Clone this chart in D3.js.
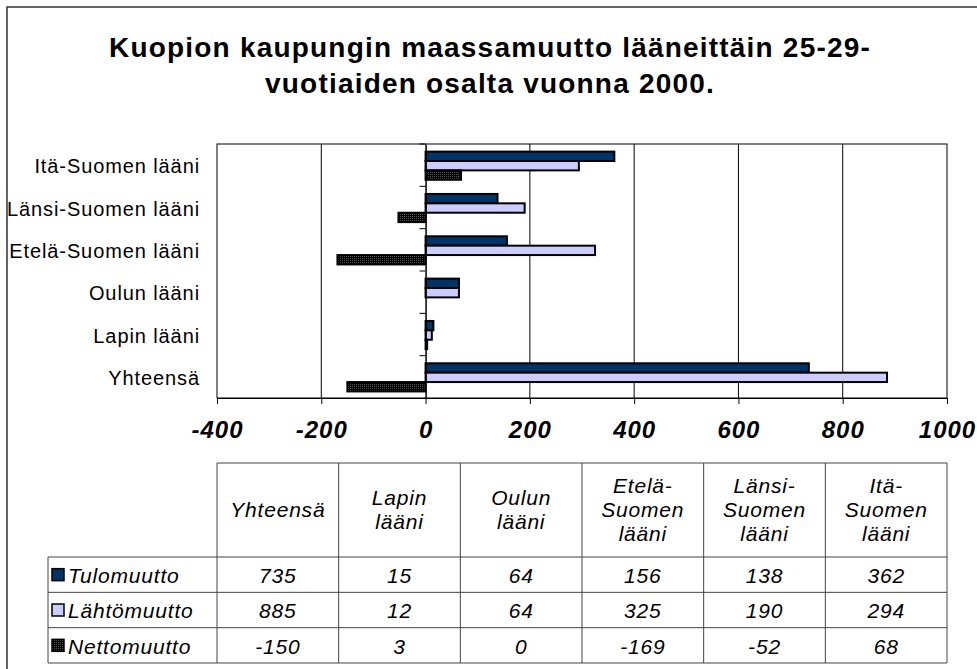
<!DOCTYPE html>
<html><head><meta charset="utf-8">
<script src="https://cdn.jsdelivr.net/npm/d3@7"></script>
<style>
html,body{margin:0;padding:0;background:#fff;}
svg{display:block;font-family:"Liberation Sans",Arial,sans-serif;}
</style></head>
<body>
<svg id="c" width="977" height="669"></svg>
<script>
// ---- data ----
const categories = ["Yhteensä","Lapin lääni","Oulun lääni","Etelä-Suomen lääni","Länsi-Suomen lääni","Itä-Suomen lääni"];
const tableHeaders = [["Yhteensä"],["Lapin","lääni"],["Oulun","lääni"],["Etelä-","Suomen","lääni"],["Länsi-","Suomen","lääni"],["Itä-","Suomen","lääni"]];
const seriesNames = ["Tulomuutto","Lähtömuutto","Nettomuutto"];
const tulomuutto = [735,15,64,156,138,362];
const lahtomuutto = [885,12,64,325,190,294];
const nettomuutto = [-150,3,0,-169,-52,68];
const xTicks = [-400,-200,0,200,400,600,800,1000];
const titleLines = ["Kuopion kaupungin maassamuutto lääneittäin 25-29-","vuotiaiden osalta vuonna 2000."];

const seriesValues = [tulomuutto, lahtomuutto, nettomuutto];
const colors = ["#003366","#CCCCFF","url(#dots)"];

const svg = d3.select("#c");
const defs = svg.append("defs");
const pat = defs.append("pattern").attr("id","dots").attr("patternUnits","userSpaceOnUse")
  .attr("width",2).attr("height",2);
pat.append("rect").attr("width",2).attr("height",2).attr("fill","#000");
pat.append("rect").attr("width",1).attr("height",1).attr("fill","#555");

// outer chart border (continues outside window)
svg.append("path").attr("d","M7,700 L7,7 L1000,7").attr("fill","none").attr("stroke","#333").attr("stroke-width",1.5);

// title
svg.append("g").selectAll("text").data(titleLines).join("text")
  .attr("x",490).attr("y",(d,i)=>57+i*36)
  .attr("text-anchor","middle").attr("font-weight","bold").attr("font-size",28)
  .attr("letter-spacing",1.2)
  .attr("fill","#000").text(d=>d);

// scales
const L=217, R=947, T=144, B=398;
const x = d3.scaleLinear().domain([-400,1000]).range([L,R]);
const chartOrder = categories.slice().reverse();
const y = d3.scaleBand().domain(chartOrder).range([T,B]);
const bw = y.bandwidth();
const ys = d3.scaleBand().domain(seriesNames).range([bw*0.18, bw*0.845]);

// plot border
svg.append("rect").attr("x",L).attr("y",T).attr("width",R-L).attr("height",B-T)
  .attr("fill","none").attr("stroke","#000").attr("stroke-width",1);

// gridlines
svg.append("g").selectAll("line").data(xTicks.filter(v=>v!==-400&&v!==1000&&v!==0)).join("line")
  .attr("x1",d=>x(d)).attr("x2",d=>x(d)).attr("y1",T).attr("y2",B)
  .attr("stroke","#000").attr("stroke-width",1);

// x axis
const xAxis = d3.axisBottom(x).tickValues(xTicks).tickSize(6).tickFormat(d3.format("d"));
const gx = svg.append("g").attr("transform",`translate(0,${B})`).call(xAxis);
gx.select(".domain").attr("stroke","#000");
gx.selectAll(".tick line").attr("stroke","#000");
gx.selectAll(".tick text").attr("font-size",24).attr("font-weight","bold").attr("font-style","italic")
  .attr("letter-spacing",1)
  .attr("font-family","'Liberation Sans',Arial,sans-serif").attr("fill","#000").attr("dy","1.3em")
  .text(d=>d<0?"-"+Math.abs(d):d);

// bars
const gBars = svg.append("g");
seriesNames.forEach((s,si)=>{
  gBars.append("g").selectAll("rect").data(categories.map((c,i)=>({c,v:seriesValues[si][i]}))).join("rect")
    .attr("x",d=>x(Math.min(0,d.v))).attr("width",d=>Math.abs(x(d.v)-x(0)))
    .attr("y",d=>y(d.c)+ys(s)).attr("height",ys.bandwidth())
    .attr("fill",colors[si]).attr("stroke","#000").attr("stroke-width",2)
    .attr("visibility",d=>d.v===0?"hidden":"visible");
});

// category axis at zero
const yAxis = d3.axisLeft(y).tickSize(0).tickFormat("");
const gy = svg.append("g").attr("transform",`translate(${x(0)},0)`).call(yAxis);
gy.select(".domain").attr("stroke","#000").attr("stroke-width",1.5);
// category boundary ticks
svg.append("g").selectAll("line").data(chartOrder).join("line")
  .attr("x1",x(0)-6).attr("x2",x(0)).attr("y1",d=>y(d)).attr("y2",d=>y(d))
  .attr("stroke","#000").attr("stroke-width",1);
// category labels
svg.append("g").selectAll("text").data(chartOrder).join("text")
  .attr("x",200).attr("y",d=>y(d)+bw/2+1).attr("dy","0.35em").attr("text-anchor","end")
  .attr("font-size",20).attr("letter-spacing",0.9).attr("fill","#000").text(d=>d);

// data table
const tx = d3.scaleBand().domain(categories).range([L,R]);
const legL = 48;
const rowTop = 463, hdrBottom = 557;
const ry = d3.scaleBand().domain(seriesNames).range([hdrBottom,663]);
const gt = svg.append("g").attr("font-style","italic").attr("font-size",21).attr("letter-spacing",0.8).attr("fill","#000");
const lineC = "#444";
// header grid
gt.append("line").attr("x1",L).attr("x2",R).attr("y1",rowTop).attr("y2",rowTop).attr("stroke",lineC);
categories.forEach((c,i)=>{
  gt.append("line").attr("x1",tx(c)).attr("x2",tx(c)).attr("y1",rowTop).attr("y2",663).attr("stroke",lineC);
});
gt.append("line").attr("x1",R).attr("x2",R).attr("y1",rowTop).attr("y2",663).attr("stroke",lineC);
gt.append("line").attr("x1",legL).attr("x2",legL).attr("y1",hdrBottom).attr("y2",663).attr("stroke",lineC);
seriesNames.forEach(s=>{
  gt.append("line").attr("x1",legL).attr("x2",R).attr("y1",ry(s)).attr("y2",ry(s)).attr("stroke",lineC);
});
gt.append("line").attr("x1",legL).attr("x2",R).attr("y1",663).attr("y2",663).attr("stroke",lineC);

// header texts
categories.forEach((c,i)=>{
  const lines = tableHeaders[i];
  const cy = (rowTop+hdrBottom)/2;
  const lh = 24;
  lines.forEach((t,j)=>{
    gt.append("text").attr("x",tx(c)+tx.bandwidth()/2).attr("y",cy+(j-(lines.length-1)/2)*lh)
      .attr("dy","0.35em").attr("text-anchor","middle").text(t);
  });
});
// values
seriesNames.forEach((s,si)=>{
  categories.forEach((c,i)=>{
    gt.append("text").attr("x",tx(c)+tx.bandwidth()/2).attr("y",ry(s)+ry.bandwidth()/2+1)
      .attr("dy","0.35em").attr("text-anchor","middle").text(seriesValues[si][i]);
  });
  gt.append("rect").attr("x",52).attr("y",ry(s)+ry.bandwidth()/2-6).attr("width",12).attr("height",12)
    .attr("fill",colors[si]).attr("stroke","#000").attr("stroke-width",1.5);
  gt.append("text").attr("x",68).attr("y",ry(s)+ry.bandwidth()/2+1).attr("dy","0.35em").text(s);
});
</script>
</body></html>
